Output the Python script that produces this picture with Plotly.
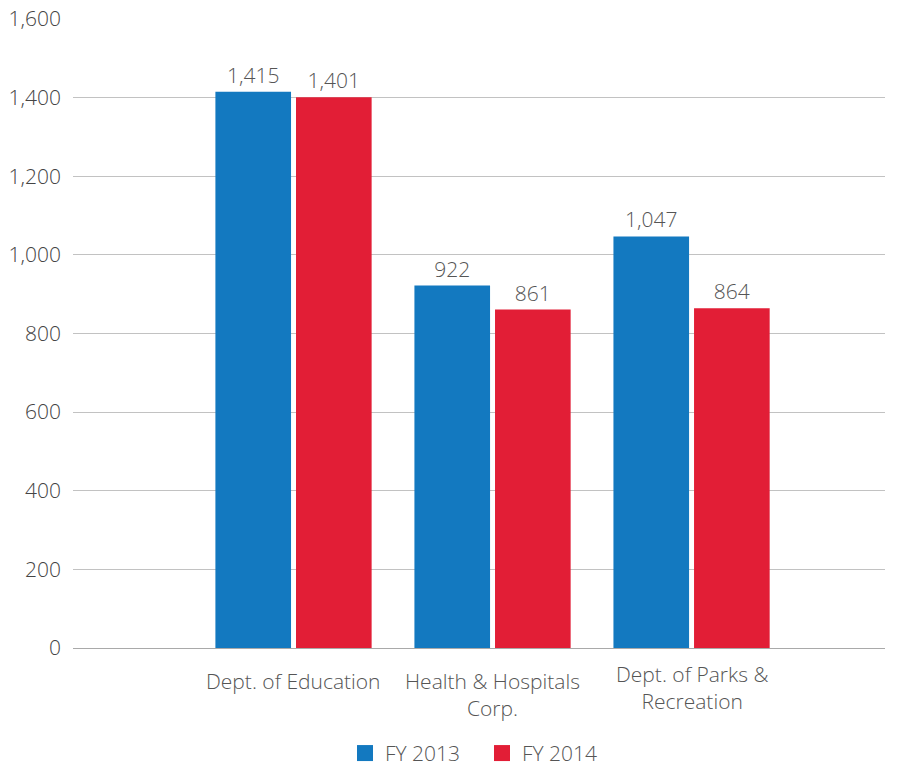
import plotly.graph_objects as go

# Headcount by agency, two fiscal years
categories = ["Dept. of Education", "Health & Hospitals<br>Corp.", "Dept. of Parks &<br>Recreation"]
fy2013 = [1415, 922, 1047]
fy2014 = [1401, 861, 864]
series_names = ["FY 2013", "FY 2014"]
tick_values = [0, 200, 400, 600, 800, 1000, 1200, 1400, 1600]

BLUE = "#1379c0"
RED = "#e21e36"
TEXT = "#555555"
FONT = "Open Sans"
FS = 21

x = list(range(len(categories)))
bar_w = 0.38
gap = 0.025

fig = go.Figure()
for vals, color, off in [(fy2013, BLUE, -bar_w - gap / 2), (fy2014, RED, gap / 2)]:
    fig.add_trace(go.Bar(
        x=x, y=vals, width=bar_w, offset=off,
        marker=dict(color=color, line=dict(width=0)),
        text=[f"{v:,}" for v in vals], textposition="outside",
        textfont=dict(family=FONT, size=FS, color=TEXT, weight=300),
        cliponaxis=False, showlegend=False,
    ))

# Legend entries as square markers
for name, color in zip(series_names, [BLUE, RED]):
    fig.add_trace(go.Scatter(
        x=[None], y=[None], mode="markers", name=name,
        marker=dict(symbol="square", size=16, color=color),
    ))

# Category labels under the axis
label_shift = [0, 0, 7]
for i, (cat, sh) in enumerate(zip(categories, label_shift)):
    fig.add_annotation(
        x=x[i], y=0, xref="x", yref="y", text=cat, showarrow=False,
        yanchor="top", yshift=-17 + sh, align="center",
        font=dict(family=FONT, size=FS, color=TEXT, weight=300),
    )

fig.update_layout(
    width=900, height=768,
    margin=dict(l=73, r=15, t=19, b=120, autoexpand=False),
    plot_bgcolor="white", paper_bgcolor="white",
    font=dict(family=FONT, size=FS, color=TEXT),
    showlegend=True,
    legend=dict(
        orientation="h", x=0.335, xanchor="left",
        yref="container", y=0.019, yanchor="middle",
        font=dict(family=FONT, size=FS, color=TEXT, weight=300),
        itemwidth=30, tracegroupgap=0,
        entrywidth=92, entrywidthmode="pixels",
    ),
)
fig.update_xaxes(
    range=[-1.108, 2.972], showticklabels=False, showgrid=False,
    zeroline=False, showline=False, fixedrange=True, automargin=False,
)
fig.update_yaxes(
    range=[0, 1600], tickvals=tick_values,
    ticktext=[f"{v:,}" for v in tick_values],
    showgrid=True, gridcolor="#c2c2c2", gridwidth=1,
    zeroline=True, zerolinecolor="#a9a9a9", zerolinewidth=1,
    showline=False, ticklabelstandoff=11, automargin=False,
    tickfont=dict(family=FONT, size=FS, color="#444444", weight=300),
)

fig.write_html("out.html")
